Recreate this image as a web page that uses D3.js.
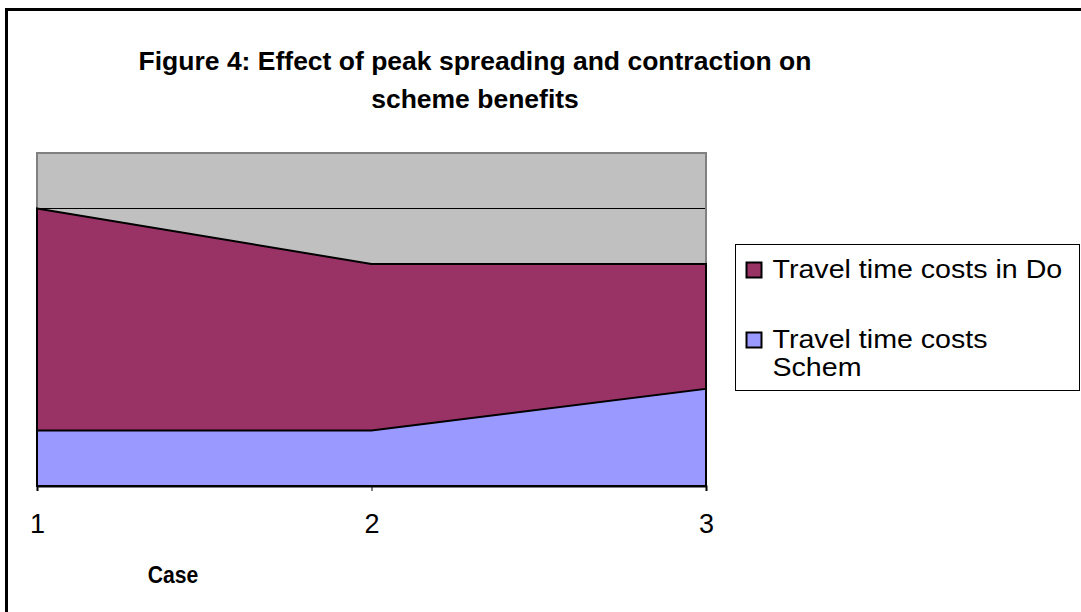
<!DOCTYPE html>
<html>
<head>
<meta charset="utf-8">
<script src="https://cdn.jsdelivr.net/npm/d3@7"></script>
<style>
    body { margin: 0; background: #fff; }
    svg { display: block; font-family: Arial, "Liberation Sans", sans-serif; }
</style>
</head>
<body>
<svg id="chart"></svg>
<script>
// data (no y axis labels shown, units are relative)
const cases = [1, 2, 3];
const doMinimum = [5, 4, 4];
const scheme = [1, 1, 1.75];
const seriesNames = ["Travel time costs in Do", "Travel time costs Schem"];
const seriesColors = ["#993366", "#9999ff"];

const width = 1081, height = 612;
const margin = { top: 153, right: 375, bottom: 126, left: 37 };
const innerW = width - margin.left - margin.right;
const innerH = height - margin.top - margin.bottom;

const svg = d3.select("#chart").attr("width", width).attr("height", height);

// outer chart frame (runs off the right and bottom edges)
svg.append("rect")
    .attr("x", 6.5).attr("y", 9.5)
    .attr("width", width + 20).attr("height", height + 20)
    .attr("fill", "none").attr("stroke", "#000").attr("stroke-width", 3);

svg.append("text")
    .attr("x", 475).attr("y", 70)
    .attr("text-anchor", "middle")
    .style("font-size", "26.5px").attr("font-weight", "bold")
    .text("Figure 4: Effect of peak spreading and contraction on");
svg.append("text")
    .attr("x", 475).attr("y", 108)
    .attr("text-anchor", "middle")
    .style("font-size", "26.5px").attr("font-weight", "bold")
    .text("scheme benefits");

const g = svg.append("g").attr("transform", `translate(${margin.left},${margin.top})`);

const x = d3.scaleLinear().domain([1, 3]).range([0, innerW]);
const y = d3.scaleLinear().domain([0, 6]).range([innerH, 0]);

g.append("rect")
    .attr("width", innerW).attr("height", innerH)
    .attr("fill", "#c0c0c0");

g.selectAll(".grid")
    .data(y.ticks(6).filter(d => d > 0))
    .join("line")
    .attr("class", "grid")
    .attr("x1", 0).attr("x2", innerW)
    .attr("y1", d => y(d)).attr("y2", d => y(d))
    .attr("stroke", "#000").attr("stroke-width", 1);

g.append("rect")
    .attr("width", innerW).attr("height", innerH)
    .attr("fill", "none").attr("stroke", "#808080").attr("stroke-width", 2);

const area = d3.area()
    .x((d, i) => x(cases[i]))
    .y0(y(0))
    .y1(d => y(d));

[doMinimum, scheme].forEach((vals, k) => {
    g.append("path")
        .datum(vals)
        .attr("d", area)
        .attr("fill", seriesColors[k])
        .attr("stroke", "#000")
        .attr("stroke-width", 2)
        .attr("stroke-linejoin", "miter");
});

const xAxis = d3.axisBottom(x).tickValues(cases).tickFormat(d3.format("d")).tickSize(5);
const ax = g.append("g").attr("transform", `translate(0,${innerH})`).call(xAxis);
ax.select(".domain").attr("stroke", "#000").attr("stroke-width", 2);
ax.selectAll(".tick line").attr("stroke", "#000");
ax.selectAll(".tick text")
    .attr("y", 47).attr("dy", 0)
    .style("font-size", "27px")
    .style("font-family", "Arial, 'Liberation Sans', sans-serif")
    .attr("fill", "#000");

svg.append("text")
    .attr("transform", "translate(173,583) scale(0.92,1)")
    .attr("text-anchor", "middle")
    .style("font-size", "23px").attr("font-weight", "bold")
    .text("Case");

// legend
const legend = svg.append("g").attr("transform", "translate(735.5,244.5)");
legend.append("rect")
    .attr("width", 344).attr("height", 146)
    .attr("fill", "#fff").attr("stroke", "#000").attr("stroke-width", 1);

const items = legend.selectAll(".legend-item")
    .data(seriesNames)
    .join("g")
    .attr("class", "legend-item")
    .attr("transform", (d, i) => `translate(11,${18 + i * 70})`);

items.append("rect")
    .attr("width", 15).attr("height", 15)
    .attr("fill", (d, i) => seriesColors[i])
    .attr("stroke", "#000").attr("stroke-width", 2);

items.append("text")
    .attr("transform", "translate(26,15) scale(1.1,1)")
    .style("font-size", "26px")
    .each(function(d, i) {
        const t = d3.select(this);
        if (i === 0) {
            t.text(d);
        } else {
            t.append("tspan").attr("x", 0).text("Travel time costs");
            t.append("tspan").attr("x", 0).attr("dy", 29).text("Schem");
        }
    });
</script>
</body>
</html>
